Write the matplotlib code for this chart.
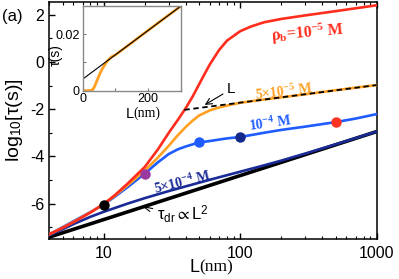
import matplotlib
matplotlib.use("Agg")
import matplotlib.pyplot as plt
from matplotlib.ticker import FixedLocator

plt.rcParams['font.family'] = ['Liberation Sans', 'DejaVu Sans']
plt.rcParams['mathtext.fontset'] = 'custom'
plt.rcParams['mathtext.rm'] = 'Liberation Serif:bold'
plt.rcParams['mathtext.it'] = 'Liberation Serif:bold'
plt.rcParams['mathtext.bf'] = 'Liberation Serif:bold'
plt.rcParams['mathtext.sf'] = 'Liberation Sans'
plt.rcParams['mathtext.fallback'] = 'stixsans'

# ---- data (log10 tau vs L) ----
L_red = [4, 5, 6, 8, 10, 12, 15, 20, 25, 30, 35, 40, 45, 50, 55, 60, 70, 80, 100, 120, 150, 200, 300, 500, 700, 1000]
v_red = [-7.3, -7.03, -6.79, -6.38, -6.02, -5.66, -5.15, -4.45, -3.7, -3.0, -2.45, -1.95, -1.45, -0.95, -0.5, -0.1, 0.5, 0.9, 1.3, 1.5, 1.68, 1.82, 1.97, 2.15, 2.27, 2.40]

L_orange = [4, 5, 6, 8, 10, 12, 15, 20, 25, 30, 35, 40, 45, 50, 60, 70, 80, 100, 150, 200, 300, 500, 700, 1000]
v_orange = [-7.3, -7.02, -6.78, -6.37, -6.02, -5.68, -5.22, -4.6, -4.05, -3.55, -3.1, -2.75, -2.48, -2.27, -2.05, -1.93, -1.85, -1.73, -1.59, -1.50, -1.37, -1.20, -1.09, -0.98]

L_blue = [4, 5, 6, 8, 10, 12, 15, 20, 25, 30, 35, 40, 50, 60, 70, 80, 100, 150, 200, 300, 500, 700, 1000]
v_blue = [-7.3, -7.0, -6.75, -6.36, -6.04, -5.72, -5.3, -4.73, -4.25, -3.9, -3.7, -3.58, -3.41, -3.35, -3.29, -3.24, -3.18, -3.0, -2.88, -2.74, -2.55, -2.4, -2.21]

L_navy = [4, 5, 6, 8, 10, 15, 20, 30, 40, 60, 100, 150, 200, 300, 500, 1000]
v_navy = [-7.34, -7.09, -6.87, -6.56, -6.35, -6.0, -5.77, -5.47, -5.27, -4.99, -4.65, -4.38, -4.18, -3.88, -3.49, -2.95]

L_black = [4, 1000]
v_black = [-7.42, -2.95]

L_dash = [39, 1000]
v_dash = [-2.03, -0.98]

L_dots = [10, 20, 50, 100, 500]
v_dots = [-6.04, -4.73, -3.41, -3.18, -2.55]
c_dots = ['black', '#9a3a9e', '#1f5cff', '#12288a', '#ff3322']

# inset (linear tau vs L)
Lin_line = [0, 300]
tin_line = [0.0041, 0.0300]
Lin_orange = [0, 20, 29, 34, 38, 45, 53, 60, 67, 75, 87, 100, 150, 200, 250, 300]
tin_orange = [0.0, 0.0, 0.0002, 0.0010, 0.0020, 0.0040, 0.0062, 0.0078, 0.0091, 0.0105, 0.0119, 0.0127, 0.0170, 0.0214, 0.0257, 0.0300]

RED = '#ff2d1e'
ORANGE = '#ffa022'
BLUE = '#1f5cff'
NAVY = '#1a2a96'

fig = plt.figure(figsize=(3.99, 2.79), dpi=100)
ax = fig.add_axes([0.1236, 0.1434, 0.8206, 0.8505])

ax.plot(L_black, v_black, color='black', lw=2.6, zorder=2, solid_capstyle='butt')
ax.plot(L_navy, v_navy, color=NAVY, lw=1.9, zorder=3)
ax.plot(L_blue, v_blue, color=BLUE, lw=1.9, zorder=4)
ax.plot(L_orange, v_orange, color=ORANGE, lw=1.9, zorder=5)
ax.plot(L_red, v_red, color=RED, lw=1.9, zorder=6)
ax.plot(L_dash, v_dash, color='black', lw=1.3, ls=(0, (3, 2)), zorder=7)
for Ld, vd, cd in zip(L_dots, v_dots, c_dots):
    ax.plot([Ld], [vd], 'o', color=cd, ms=6.5, zorder=8)

ax.set_xscale('log')
ax.set_xlim(4, 1000)
ax.set_ylim(-7.5, 2.55)
ax.set_xticks([10, 100, 1000])
ax.set_xticklabels(['10', '100', '1000'])
ax.set_yticks([-6, -4, -2, 0, 2])
ax.set_yticklabels(['-6', '-4', '-2', '0', '2'])
ax.yaxis.set_minor_locator(FixedLocator([-7, -5, -3, -1, 1]))
ax.tick_params(which='both', direction='in', top=True, right=False, labelsize=11.5)
ax.tick_params(which='major', length=4, width=1)
ax.tick_params(which='minor', length=2.5, width=0.8)
ax.tick_params(axis='x', pad=5)
for s in ax.spines.values():
    s.set_linewidth(1.1)

ax.set_ylabel(r'log$_{\mathsf{10}}$[τ(s)]', fontsize=14, labelpad=4)
fig.text(0.5, 0.012, 'L', fontsize=13, ha='right', va='bottom')
fig.text(0.5, 0.012, '(nm)', fontsize=12.5, ha='left', va='bottom', family='Liberation Serif')
fig.text(0.005, 0.925, '(a)', fontsize=12)

sf = dict(family='Liberation Serif', fontweight='bold')
ax.text(310, 1.22, r'ρ$_{\mathrm{b}}$=10$^{\mathrm{-5}}$ M', color=RED, fontsize=11.5, ha='center', va='center', rotation=5, **sf)
ax.text(207, -1.26, r'5×10$^{\mathrm{-5}}$ M', color=ORANGE, fontsize=10, ha='center', va='center', rotation=7, **sf)
ax.text(165, -2.6, r'10$^{\mathrm{-4}}$ M', color=BLUE, fontsize=10, ha='center', va='center', rotation=8, **sf)
ax.text(38, -5.1, r'5×10$^{\mathrm{-4}}$ M', color=NAVY, fontsize=10, ha='center', va='center', rotation=14, **sf)

ax.annotate('L', xy=(55, -1.82), xytext=(80, -1.15), fontsize=11, ha='left', va='center',
            arrowprops=dict(arrowstyle='->', lw=0.8, color='black', shrinkA=1, shrinkB=0))
ax.annotate(r'τ$_{\mathsf{dr}}\propto$L$^{\mathsf{2}}$', xy=(19.3, -6.13), xytext=(24.5, -6.45), fontsize=12, ha='left', va='center',
            arrowprops=dict(arrowstyle='->', lw=0.8, color='black', shrinkA=1, shrinkB=0))

# inset
ai = fig.add_axes([0.2073, 0.675, 0.2464, 0.3036])
ai.plot(Lin_orange, tin_orange, color=ORANGE, lw=2.0)
ai.plot(Lin_line, tin_line, color='black', lw=0.8)
ai.set_xlim(0, 300)
ai.set_ylim(0, 0.030)
ai.set_xticks([0, 100, 200, 300])
ai.set_xticklabels(['0', '', '200', ''])
ai.set_yticks([0, 0.01, 0.02])
ai.set_yticklabels(['0', '', '0.02'])
ai.tick_params(direction='in', length=2.5, labelsize=9, pad=2, color='#777777')
for s in ai.spines.values():
    s.set_color('#888888')
    s.set_linewidth(1.0)
ai.set_ylabel('τ(s)', fontsize=10, labelpad=0)
ai.yaxis.set_label_coords(-0.2, 0.42)
ai.text(0.52, -0.27, 'L', fontsize=10.5, ha='right', va='center', transform=ai.transAxes)
ai.text(0.52, -0.27, '(nm)', fontsize=10, ha='left', va='center', transform=ai.transAxes, family='Liberation Serif')

fig.savefig('out.png', dpi=100)
